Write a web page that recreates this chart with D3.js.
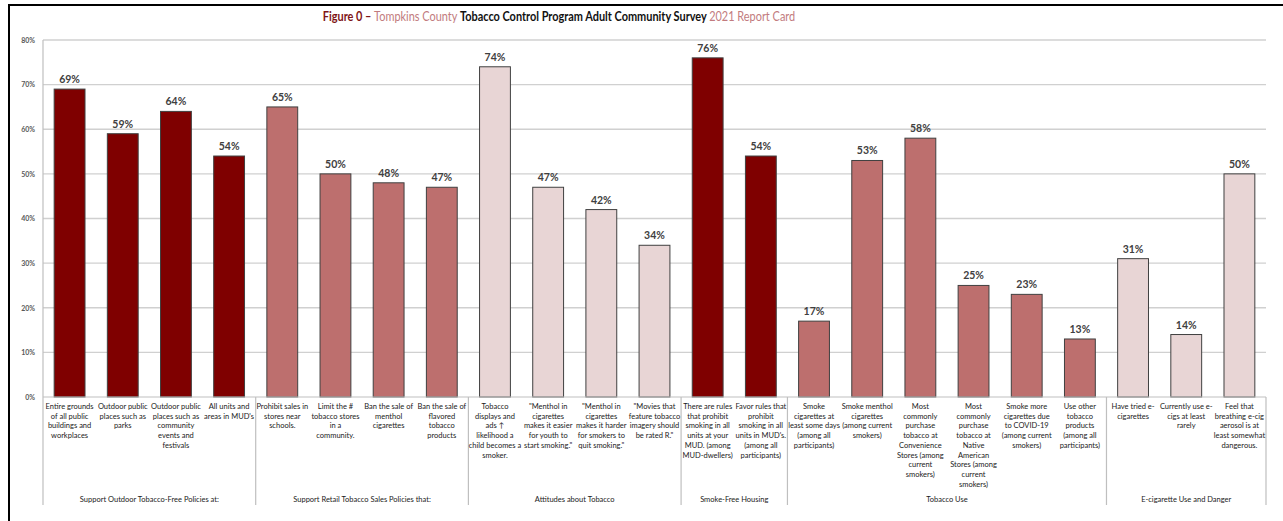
<!DOCTYPE html>
<html>
<head>
<meta charset="utf-8">
<script src="https://cdn.jsdelivr.net/npm/d3@7"></script>
<style>
  html, body { margin: 0; padding: 0; background: #fff; }
  svg { display: block; font-family: Lato, "Open Sans", sans-serif; }
</style>
</head>
<body>
<svg id="chart" width="1283" height="521"></svg>
<script>
// Survey items, grouped by topic
const categories = [
  "Entire grounds\nof all public\nbuildings and\nworkplaces",
  "Outdoor public\nplaces such as\nparks",
  "Outdoor public\nplaces such as\ncommunity\nevents and\nfestivals",
  "All units and\nareas in MUD's",
  "Prohibit sales in\nstores near\nschools.",
  "Limit the #\ntobacco stores\nin a\ncommunity.",
  "Ban the sale of\nmenthol\ncigarettes",
  "Ban the sale of\nflavored\ntobacco\nproducts",
  "Tobacco\ndisplays and\nads \u2191\nlikelihood a\nchild becomes a\nsmoker.",
  "\"Menthol in\ncigarettes\nmakes it easier\nfor youth to\nstart smoking.\"",
  "\"Menthol in\ncigarettes\nmakes it harder\nfor smokers to\nquit smoking.\"",
  "\"Movies that\nfeature tobacco\nimagery should\nbe rated R.\"",
  "There are rules\nthat prohibit\nsmoking in all\nunits at your\nMUD. (among\nMUD-dwellers)",
  "Favor rules that\nprohibit\nsmoking in all\nunits in MUD's.\n(among all\nparticipants)",
  "Smoke\ncigarettes at\nleast some days\n(among all\nparticipants)",
  "Smoke menthol\ncigarettes\n(among current\nsmokers)",
  "Most\ncommonly\npurchase\ntobacco at\nConvenience\nStores (among\ncurrent\nsmokers)",
  "Most\ncommonly\npurchase\ntobacco at\nNative\nAmerican\nStores (among\ncurrent\nsmokers)",
  "Smoke more\ncigarettes due\nto COVID-19\n(among current\nsmokers)",
  "Use other\ntobacco\nproducts\n(among all\nparticipants)",
  "Have tried e-\ncigarettes",
  "Currently use e-\ncigs at least\nrarely",
  "Feel that\nbreathing e-cig\naerosol is at\nleast somewhat\ndangerous."
];

// Percent of respondents
const values = [69, 59, 64, 54, 65, 50, 48, 47, 74, 47, 42, 34, 76, 54, 17, 53, 58, 25, 23, 13, 31, 14, 50];

// Topic groups and how many items each holds
const groupNames = [
  "Support Outdoor Tobacco-Free Policies at:",
  "Support Retail Tobacco Sales Policies that:",
  "Attitudes about Tobacco",
  "Smoke-Free Housing",
  "Tobacco Use",
  "E-cigarette Use and Danger"
];
const groupSizes = [4, 4, 4, 2, 6, 3];

const yTicks = [0, 10, 20, 30, 40, 50, 60, 70, 80];

// Fill shade per group
const groupFills = ["#7f0000", "#bd6f6e", "#e8d5d5", "#7f0000", "#bd6f6e", "#e8d5d5"];

const svg = d3.select("#chart");
const plotLeft = 43, plotRight = 1266, plotTop = 40, plotBottom = 397, boxBottom = 505;

// group index for each item
const groupOf = [];
groupSizes.forEach((n, g) => { for (let i = 0; i < n; i++) groupOf.push(g); });

const x = d3.scaleBand()
  .domain(d3.range(categories.length))
  .range([plotLeft, plotRight])
  .paddingInner(0.42)
  .paddingOuter(0.21);

const y = d3.scaleLinear().domain([0, 80]).range([plotBottom, plotTop]);

// outer frame
svg.append("path")
  .attr("d", `M9,521 V5 H1283`)
  .attr("fill", "none")
  .attr("stroke", "#000")
  .attr("stroke-width", 2);

// title, squeezed horizontally to a fixed width around its centre
const titleCx = 559, titleW = 473;
const titleG = svg.append("g");
const title = titleG.append("text")
  .attr("x", 0)
  .attr("y", 0)
  .attr("text-anchor", "middle")
  .attr("font-size", 12.5)
  .attr("font-weight", 700);
title.append("tspan").attr("fill", "#7f1416").text("Figure 0 \u2013 ");
title.append("tspan").attr("fill", "#c27b7e").attr("font-weight", 400).text("Tompkins County ");
title.append("tspan").attr("fill", "#111").text("Tobacco Control Program Adult Community Survey ");
title.append("tspan").attr("fill", "#c27b7e").attr("font-weight", 400).text("2021 Report Card");
{
  const w = title.node().getComputedTextLength();
  const sx = Math.min(1, titleW / w);
  titleG.attr("transform", `translate(${titleCx},21) scale(${sx},1)`);
}

// horizontal gridlines
svg.append("g")
  .selectAll("line")
  .data(yTicks.filter(t => t > 0))
  .join("line")
  .attr("x1", plotLeft).attr("x2", plotRight)
  .attr("y1", d => y(d)).attr("y2", d => y(d))
  .attr("stroke", "#d0d0d0")
  .attr("stroke-width", 1.3);

// y axis
const yAxis = svg.append("g")
  .attr("transform", `translate(${plotLeft},0)`)
  .call(d3.axisLeft(y).tickValues(yTicks).tickFormat(d => d + "%").tickSize(0).tickPadding(8));
yAxis.select(".domain").remove();
yAxis.selectAll("text")
  .attr("font-family", "Lato, sans-serif")
  .attr("font-size", 7)
  .attr("font-weight", 700)
  .attr("fill", "#595959");

// bars
svg.append("g")
  .selectAll("rect")
  .data(values)
  .join("rect")
  .attr("x", (d, i) => x(i))
  .attr("y", d => y(d))
  .attr("width", x.bandwidth())
  .attr("height", d => y(0) - y(d))
  .attr("fill", (d, i) => groupFills[groupOf[i]])
  .attr("stroke", "#404040")
  .attr("stroke-width", 1);

// value labels
svg.append("g")
  .selectAll("text")
  .data(values)
  .join("text")
  .attr("x", (d, i) => x(i) + x.bandwidth() / 2)
  .attr("y", d => y(d) - 6)
  .attr("text-anchor", "middle")
  .attr("font-size", 10.5)
  .attr("font-weight", 700)
  .attr("fill", "#404040")
  .text(d => d + "%");

// axis lines and the category label box
const axisColor = "#bfbfbf";
svg.append("line")
  .attr("x1", plotLeft).attr("x2", plotRight)
  .attr("y1", plotBottom).attr("y2", plotBottom)
  .attr("stroke", axisColor).attr("stroke-width", 1.2);
svg.append("line")
  .attr("x1", plotLeft).attr("x2", plotLeft)
  .attr("y1", plotTop).attr("y2", boxBottom)
  .attr("stroke", axisColor).attr("stroke-width", 1.2);

const bounds = [0];
groupSizes.forEach(n => bounds.push(bounds[bounds.length - 1] + n));
const step = x.step();
const edge = i => x.range()[0] + i * step;

svg.append("g")
  .selectAll("line")
  .data(bounds.slice(1))
  .join("line")
  .attr("x1", d => edge(d)).attr("x2", d => edge(d))
  .attr("y1", plotBottom).attr("y2", boxBottom)
  .attr("stroke", axisColor).attr("stroke-width", 1.2);

// category labels
const lineH = 9.7;
const catG = svg.append("g")
  .attr("font-size", 7.5)
  .attr("fill", "#1a1a1a")
  .attr("text-anchor", "middle");
categories.forEach((c, i) => {
  const t = catG.append("text")
    .attr("x", x(i) + x.bandwidth() / 2)
    .attr("y", 409);
  c.split("\n").forEach((ln, k) => {
    t.append("tspan")
      .attr("x", x(i) + x.bandwidth() / 2)
      .attr("dy", k === 0 ? 0 : lineH)
      .text(ln);
  });
});

// group labels
svg.append("g")
  .selectAll("text")
  .data(groupNames)
  .join("text")
  .attr("x", (d, g) => (edge(bounds[g]) + edge(bounds[g + 1])) / 2)
  .attr("y", 502)
  .attr("text-anchor", "middle")
  .attr("font-size", 7.5)
  .attr("fill", "#1a1a1a")
  .text(d => d);
</script>
</body>
</html>
